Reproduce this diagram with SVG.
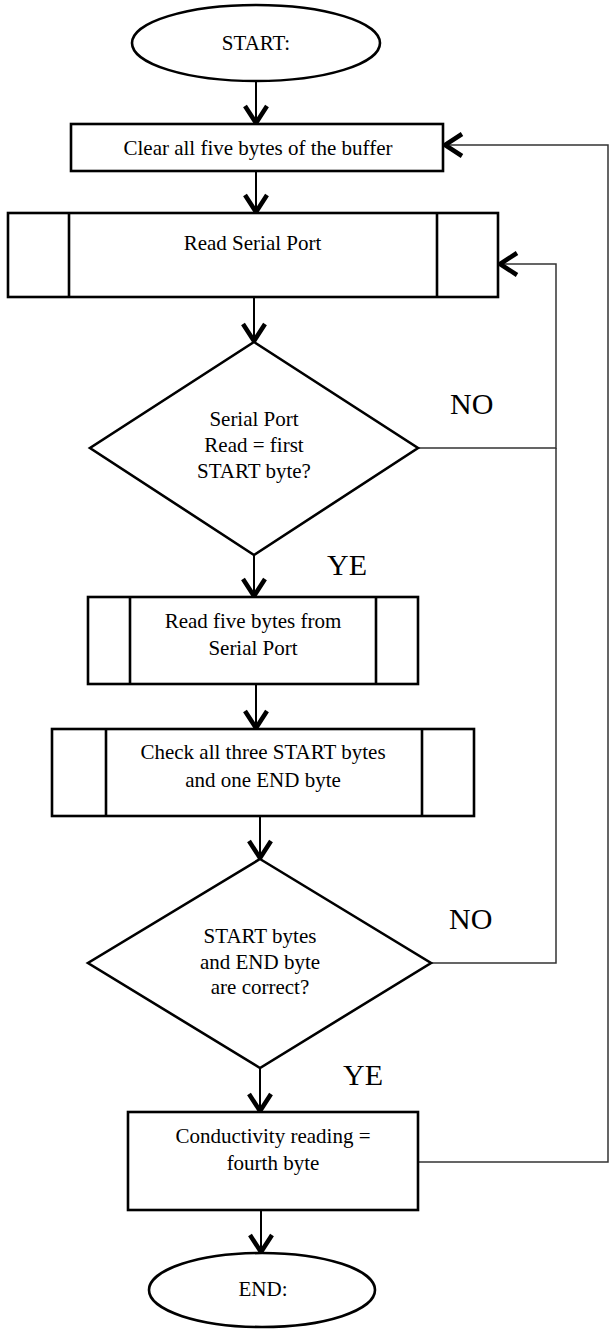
<svg xmlns="http://www.w3.org/2000/svg" width="609" height="1331" viewBox="0 0 609 1331">
  <style>
    .shape { fill: #fff; stroke: #000; stroke-width: 2.6; }
    .bar { fill: none; stroke: #000; stroke-width: 2.6; }
    .flow { fill: none; stroke: #000; stroke-width: 2; }
    .loop { fill: none; stroke: #333; stroke-width: 1.5; }
    .txt { font-family: "Liberation Serif", "Times New Roman", serif; font-size: 21px; fill: #000; text-anchor: middle; }
    .lbl { font-family: "Liberation Serif", "Times New Roman", serif; font-size: 30px; fill: #000; }
  </style>
  <defs>
    <marker id="vhead" markerUnits="userSpaceOnUse" markerWidth="30" markerHeight="30" refX="0" refY="0" orient="auto" overflow="visible">
      <path d="M-18,-11 L-1,0 L-18,11" fill="none" stroke="#000" stroke-width="4.5" stroke-linejoin="miter"/>
    </marker>
  </defs>
  <rect width="609" height="1331" fill="#fff"/>

  <!-- connectors -->
  <g id="connectors">
    <path class="flow" d="M256,82 V124" marker-end="url(#vhead)"/>
    <path class="flow" d="M256,171 V213" marker-end="url(#vhead)"/>
    <path class="flow" d="M254,297 V342" marker-end="url(#vhead)"/>
    <path class="flow" d="M254,555 V597" marker-end="url(#vhead)"/>
    <path class="flow" d="M256,684 V729" marker-end="url(#vhead)"/>
    <path class="flow" d="M260,816 V859" marker-end="url(#vhead)"/>
    <path class="flow" d="M260,1068 V1112" marker-end="url(#vhead)"/>
    <path class="flow" d="M261,1210 V1253" marker-end="url(#vhead)"/>
    <!-- retry paths back to the serial read -->
    <path class="loop" d="M418,448 H556 V264 H499" marker-end="url(#vhead)"/>
    <path class="loop" d="M431,963 H556 V448"/>
    <!-- loop back to clearing the buffer -->
    <path class="loop" d="M418,1162 H608 V145 H444" marker-end="url(#vhead)"/>
  </g>

  <g id="start">
    <ellipse class="shape" cx="256" cy="43" rx="124" ry="38"/>
    <text class="txt" x="256" y="50">START:</text>
  </g>

  <g id="clear-buffer">
    <rect class="shape" x="71" y="124" width="372" height="47"/>
    <text class="txt" x="258" y="155">Clear all five bytes of the buffer</text>
  </g>

  <g id="read-port">
    <rect class="shape" x="8" y="213" width="490" height="84"/>
    <path class="bar" d="M69,213 V297 M437,213 V297"/>
    <text class="txt" x="252.5" y="250">Read Serial Port</text>
  </g>

  <g id="check-first">
    <polygon class="shape" points="254,342 418,448 254,555 90,448"/>
    <text class="txt" x="254" y="426">Serial Port</text>
    <text class="txt" x="254" y="452">Read = first</text>
    <text class="txt" x="254" y="478">START byte?</text>
  </g>
  <text class="lbl" x="450" y="414">NO</text>
  <text class="lbl" x="327" y="575">YE</text>

  <g id="read-five">
    <rect class="shape" x="88" y="597" width="330" height="87"/>
    <path class="bar" d="M130,597 V684 M376,597 V684"/>
    <text class="txt" x="253" y="628">Read five bytes from</text>
    <text class="txt" x="253" y="655">Serial Port</text>
  </g>

  <g id="check-all">
    <rect class="shape" x="52" y="729" width="422" height="87"/>
    <path class="bar" d="M106,729 V816 M422,729 V816"/>
    <text class="txt" x="263" y="759">Check all three START bytes</text>
    <text class="txt" x="263" y="787">and one END byte</text>
  </g>

  <g id="check-correct">
    <polygon class="shape" points="260,859 431,963 260,1068 88,963"/>
    <text class="txt" x="260" y="943">START bytes</text>
    <text class="txt" x="260" y="969">and END byte</text>
    <text class="txt" x="260" y="994">are correct?</text>
  </g>
  <text class="lbl" x="449" y="929">NO</text>
  <text class="lbl" x="343" y="1085">YE</text>

  <g id="conductivity">
    <rect class="shape" x="128" y="1112" width="290" height="98"/>
    <text class="txt" x="273" y="1143">Conductivity reading =</text>
    <text class="txt" x="273" y="1170">fourth byte</text>
  </g>

  <g id="end">
    <ellipse class="shape" cx="262" cy="1290" rx="113" ry="37"/>
    <text class="txt" x="263" y="1296">END:</text>
  </g>
</svg>
